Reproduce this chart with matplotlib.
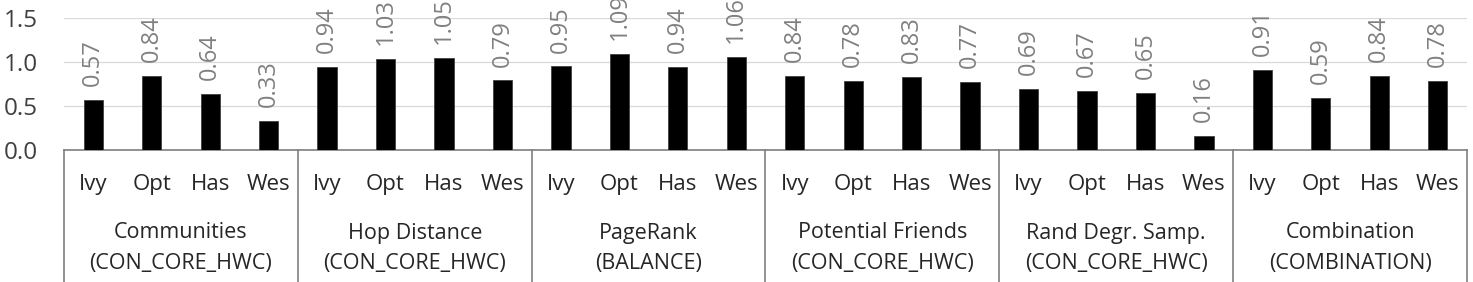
import numpy as np
import matplotlib
matplotlib.use("Agg")
import matplotlib.pyplot as plt
import matplotlib.transforms as mtransforms

plt.rcParams['font.family'] = ['Open Sans', 'DejaVu Sans']

# data
systems = ['Ivy', 'Opt', 'Has', 'Wes']
groups = ['Communities', 'Hop Distance', 'PageRank', 'Potential Friends',
          'Rand Degr. Samp.', 'Combination']
subgroups = ['(CON_CORE_HWC)', '(CON_CORE_HWC)', '(BALANCE)', '(CON_CORE_HWC)',
             '(CON_CORE_HWC)', '(COMBINATION)']
values = [
    [0.57, 0.84, 0.64, 0.33],
    [0.94, 1.03, 1.05, 0.79],
    [0.95, 1.09, 0.94, 1.06],
    [0.84, 0.78, 0.83, 0.77],
    [0.69, 0.67, 0.65, 0.16],
    [0.91, 0.59, 0.84, 0.78],
]
yticks = [0.0, 0.5, 1.0, 1.5]

W, H = 1473, 282
fig = plt.figure(figsize=(W / 100, H / 100), dpi=100)
ax = fig.add_axes([64 / W, 1 - 150 / H, (1467 - 64) / W, 132 / H])

flat = [v for g in values for v in g]
x = np.arange(len(flat))
ax.bar(x, flat, width=0.33, color='black', edgecolor='#404040', linewidth=0.6, zorder=3)
for xi, v in zip(x, flat):
    ax.annotate(f'{v:.2f}', (xi, v), xytext=(0, 10), textcoords='offset points',
                rotation=90, ha='center', va='bottom', fontsize=17,
                color='#808080', annotation_clip=False)

ax.set_xlim(-0.5, len(flat) - 0.5)
ax.set_ylim(0, 1.5)
ax.set_yticks(yticks)
ax.set_yticklabels([f'{t:.1f}' for t in yticks], fontsize=17.5, color='#404040')
ax.yaxis.grid(True, color='#d9d9d9', linewidth=0.9, zorder=0)
ax.tick_params(axis='y', length=0, pad=19)
for s in ['top', 'right', 'left']:
    ax.spines[s].set_visible(False)
ax.spines['bottom'].set_color('#7f7f7f')
ax.spines['bottom'].set_linewidth(1.2)

ax.set_xticks(x)
ax.set_xticklabels(systems * len(groups), fontsize=16, color='#262626')
ax.tick_params(axis='x', length=0, pad=17)

trans = mtransforms.blended_transform_factory(ax.transData, ax.transAxes)
n = len(systems)
for i in range(len(groups) + 1):
    xb = i * n - 0.5
    ax.plot([xb, xb], [0, -1.0], transform=trans, color='#7f7f7f',
            linewidth=1.2, clip_on=False)
for i, (g, sg) in enumerate(zip(groups, subgroups)):
    xc = i * n + (n - 1) / 2
    ax.text(xc, -83 / 132, g, transform=trans, ha='center', va='center',
            fontsize=15.5, color='#262626')
    ax.text(xc, -113 / 132, sg, transform=trans, ha='center', va='center',
            fontsize=15.5, color='#262626')

fig.savefig('out.png', dpi=100)
